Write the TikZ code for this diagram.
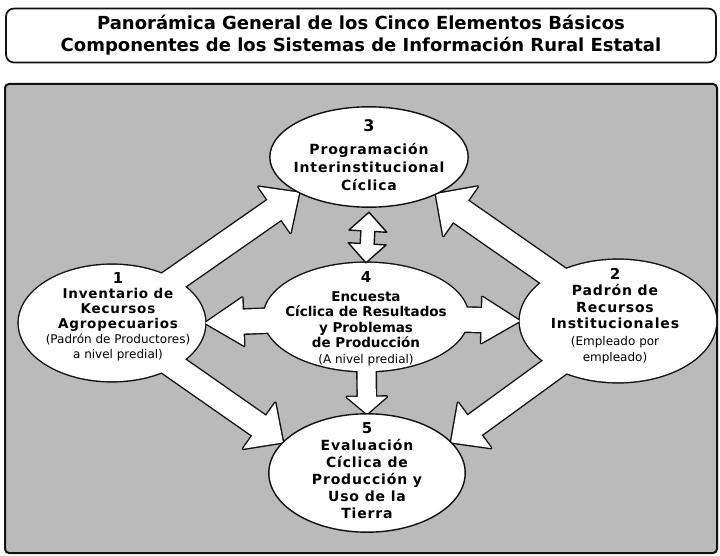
\documentclass[tikz,border=0pt]{standalone}
\usepackage{fontspec}
\setmainfont{DejaVu Sans}
\newfontfamily\widefont[LetterSpace=6]{DejaVu Sans}
\usetikzlibrary{calc, shapes.geometric}
\definecolor{panelgray}{HTML}{BABABA}
\definecolor{inkline}{HTML}{111111}

% block arrow: style, from, to, half shaft, half head, head length
\newcommand{\blockarrow}[6]{%
  \path[#1] let \p1=(#2), \p2=(#3), \n1={atan2(\y2-\y1,\x2-\x1)} in
    ($(\p1)+({\n1+90}:#4pt)$)
    -- ($(\p2)+({\n1+180}:#6pt)+({\n1+90}:#4pt)$)
    -- ($(\p2)+({\n1+180}:#6pt)+({\n1+90}:#5pt)$)
    -- (\p2)
    -- ($(\p2)+({\n1+180}:#6pt)+({\n1-90}:#5pt)$)
    -- ($(\p2)+({\n1+180}:#6pt)+({\n1-90}:#4pt)$)
    -- ($(\p1)+({\n1-90}:#4pt)$) -- cycle;}
% double headed block arrow, same arguments
\newcommand{\twinarrow}[6]{%
  \path[#1] let \p1=(#2), \p2=(#3), \n1={atan2(\y2-\y1,\x2-\x1)} in
    (\p1)
    -- ($(\p1)+(\n1:#6pt)+({\n1+90}:#5pt)$)
    -- ($(\p1)+(\n1:#6pt)+({\n1+90}:#4pt)$)
    -- ($(\p2)+({\n1+180}:#6pt)+({\n1+90}:#4pt)$)
    -- ($(\p2)+({\n1+180}:#6pt)+({\n1+90}:#5pt)$)
    -- (\p2)
    -- ($(\p2)+({\n1+180}:#6pt)+({\n1-90}:#5pt)$)
    -- ($(\p2)+({\n1+180}:#6pt)+({\n1-90}:#4pt)$)
    -- ($(\p1)+(\n1:#6pt)+({\n1-90}:#4pt)$)
    -- ($(\p1)+(\n1:#6pt)+({\n1-90}:#5pt)$) -- cycle;}
% outline of an ellipse node
\newcommand{\ovlpath}[2]{%
  \path[#2] let \p1=($(#1.east)-(#1.center)$), \p2=($(#1.north)-(#1.center)$) in
    (#1.center) ellipse [x radius=\x1, y radius=\y2];}

\begin{document}
\begin{tikzpicture}[x=1pt, y=-1pt,
    ovl/.style={ellipse, inner sep=0pt},
    rimline/.style={draw=inkline, line width=2.8pt, line join=round},
    whitefill/.style={fill=white},
    bubble/.style={draw=inkline, line width=1.4pt, fill=white, line join=round},
    txt/.style={align=center, font=\widefont\bfseries\fontsize{14}{16}\selectfont}]
    \fill[white] (0,0) rectangle (720,556);
    \useasboundingbox (0,0) rectangle (720,556);

    % title
    \node[draw=inkline, line width=1.7pt, rounded corners=8pt, minimum width=710, minimum height=54,
          align=center, font=\bfseries\fontsize{18}{22}\selectfont] (hdr) at (361,35.5)
        {Panorámica General de los Cinco Elementos Básicos\\
         Componentes de los Sistemas de Información Rural Estatal};

    % panel
    \node[draw=inkline, fill=panelgray, line width=2pt, rounded corners=4pt, inner sep=0pt,
          minimum width=712, minimum height=469] (panel) at (361,318.5) {};

    % the five ellipses
    \node[ovl, minimum width=186, minimum height=116] (e1) at (112,323) {};
    \node[ovl, minimum width=196, minimum height=122] (e2) at (618,321) {};
    \node[ovl, minimum width=198, minimum height=100] (e3) at (369,157) {};
    \node[ovl, minimum width=204, minimum height=108] (e4) at (366,317) {};
    \node[ovl, minimum width=196, minimum height=118] (e5) at (367,473) {};

    % joined white shapes: outlines first, then the fill
    \foreach \st in {rimline, whitefill} {
        \foreach \e in {e1,e2,e4} {\ovlpath{\e}{\st}}
        \blockarrow{\st}{e1.center}{e3.207}{12}{28}{30}
        \blockarrow{\st}{e2.center}{e3.-29}{13}{30}{30}
        \blockarrow{\st}{e1.center}{e5.160}{12}{28}{29}
        \blockarrow{\st}{e2.center}{e5.20}{12}{28}{29}
        \blockarrow{\st}{e4.center}{e1.east}{12}{24}{38}
        \blockarrow{\st}{e4.center}{e2.west}{12}{23}{38}
        \blockarrow{\st}{e4.center}{e5.north}{9}{20}{17}
    }
    \twinarrow{bubble}{[yshift=-5pt]e3.south}{e4.north}{7}{19}{19}
    \ovlpath{e3}{bubble}
    \ovlpath{e5}{bubble}

    % texts
    \node[txt] (t3) at ([yshift=2pt]e3.center)
        {{\fontsize{16}{16}\selectfont 3}\\[7pt] Programación\\[2pt] Interinstitucional\\[2pt] Cíclica};
    \node[txt, font=\widefont\bfseries\fontsize{13.5}{15}\selectfont] (t1) at ([xshift=6pt, yshift=6pt]e1.center)
        {{\fontsize{15}{15}\selectfont 1}\\ Inventario de\\ Kecursos\\ Agropecuarios\\
         {\normalfont\fontsize{12}{14}\selectfont (Padrón de Productores)}\\
         {\normalfont\fontsize{12}{14}\selectfont a nivel predial)}};
    \node[txt, font=\widefont\bfseries\fontsize{14}{16.5}\selectfont] (t2) at ([xshift=-3pt, yshift=5pt]e2.center)
        {{\fontsize{15}{15}\selectfont 2}\\ Padrón de\\ Recursos\\ Institucionales\\
         {\normalfont\fontsize{12}{14}\selectfont (Empleado por}\\
         {\normalfont\fontsize{12}{14}\selectfont empleado)}};
    \node[txt, font=\bfseries\fontsize{13.5}{15.5}\selectfont] (t4) at ([yshift=-2pt]e4.center)
        {{\fontsize{15}{15}\selectfont 4}\\[3pt] Encuesta\\ Cíclica de Resultados\\ y Problemas\\ de Producción\\
         {\normalfont\fontsize{12}{14}\selectfont (A nivel predial)}};
    \node[txt, font=\widefont\bfseries\fontsize{14}{17}\selectfont] (t5) at ([yshift=2pt]e5.center)
        {{\fontsize{15}{15}\selectfont 5}\\ Evaluación\\ Cíclica de\\ Producción y\\ Uso de la\\ Tierra};
\end{tikzpicture}
\end{document}
